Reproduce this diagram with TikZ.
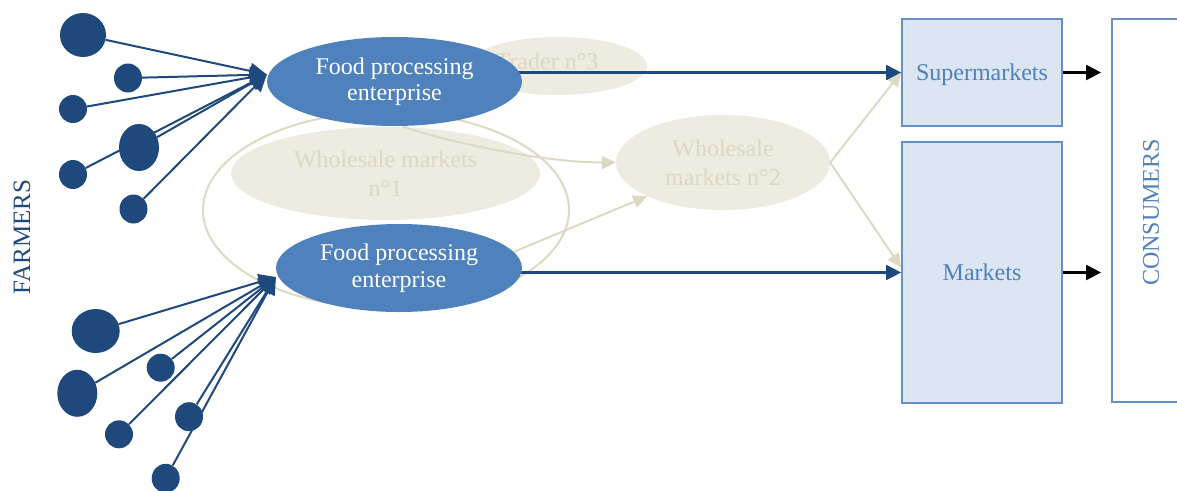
\documentclass[tikz,border=0pt]{standalone}
\usepackage{fontspec}
\setmainfont{Liberation Serif}
\usetikzlibrary{arrows.meta,calc,shapes.geometric}
\definecolor{dkblue}{HTML}{1F497D}
\definecolor{midblue}{HTML}{4F81BD}
\definecolor{boxline}{HTML}{6690C8}
\definecolor{boxfill}{HTML}{DCE6F2}
\definecolor{tanfill}{HTML}{EEECE1}
\definecolor{tanline}{HTML}{DDD9C3}
\definecolor{tantext}{HTML}{DCD8C3}
\pgfdeclarelayer{bottom}
\pgfdeclarelayer{mid}
\pgfsetlayers{bottom,mid,main}
\begin{document}
\begin{tikzpicture}[x=1pt,y=-1pt,
  font=\fontsize{24}{26.5}\selectfont,
  tanell/.style={ellipse, fill=tanfill, draw=none, text=tantext, inner sep=0pt, align=center, font=\fontsize{24}{29}\selectfont},
  fpe/.style={ellipse, fill=midblue, draw=none, text=white, inner sep=0pt, align=center},
  farmer/.style={ellipse, fill=dkblue, draw=none, inner sep=0pt},
  mybox/.style={rectangle, draw=boxline, line width=1.8pt, fill=boxfill, text=midblue, inner sep=0pt, text depth=0pt},
  feed/.style={dkblue, line width=2pt, -{Triangle[length=17pt,width=16pt]}},
  flow/.style={dkblue, line width=2.2pt, -{Triangle[length=15pt,width=15pt]}},
  tanflow/.style={tanline, line width=2pt, -{Triangle[length=14pt,width=13pt]}},
  outflow/.style={black, line width=2.2pt, -{Triangle[length=15pt,width=15pt]}}]
\useasboundingbox (0,0) rectangle (1177,490);
\clip (0,0) rectangle (1177,490);

% background ellipses
\begin{pgfonlayer}{bottom}
\node[tanell, minimum width=178pt, minimum height=58pt,
  label={[text=tantext, xshift=-11pt, yshift=5pt]center:Trader n°3}] (trader) at (558,66) {};
\node[tanell, minimum width=309pt, minimum height=93pt] (wm1) at (385.5,173.5) {Wholesale markets\\n°1};
\node[ellipse, draw=tanline, line width=2pt, fill=none, minimum width=366pt, minimum height=196pt, inner sep=0pt] (ring) at (386,210) {};
\node[tanell, minimum width=214pt, minimum height=95pt] (wm2) at (723,162.5) {Wholesale\\markets n°2};
\end{pgfonlayer}

% processing enterprises
\node[fpe, minimum width=255pt, minimum height=89pt] (fpe1) at (394.5,81.5) {Food processing\\enterprise};
\node[fpe, minimum width=246pt, minimum height=88pt] (fpe2) at (399,268) {Food processing\\enterprise};

% retail boxes
\node[mybox, minimum width=160pt, minimum height=107pt] (sm) at (982,72.5) {Supermarkets};
\node[mybox, minimum width=160pt, minimum height=261pt] (mk) at (982,272.5) {Markets};
\node[mybox, fill=white, minimum width=78pt, minimum height=383pt,
  label={[rotate=90, text=midblue, xshift=-2pt]center:CONSUMERS}] (cons) at (1151,210.5) {};

% farmers
\node[rotate=90, text=dkblue, font=\fontsize{25}{30}\selectfont] (farmers) at (22,237) {FARMERS};
\node[farmer, minimum width=46pt, minimum height=44pt] (f1) at (83,35) {};
\node[farmer, minimum width=28pt, minimum height=29pt] (f2) at (128,78) {};
\node[farmer, minimum width=28pt, minimum height=28pt] (f3) at (73,109) {};
\node[farmer, minimum width=40pt, minimum height=47pt] (f4) at (139,147.5) {};
\node[farmer, minimum width=28pt, minimum height=29pt] (f5) at (73,174.5) {};
\node[farmer, minimum width=28pt, minimum height=29pt] (f6) at (133.5,209) {};
\node[farmer, minimum width=48pt, minimum height=44pt] (g1) at (95.7,331) {};
\node[farmer, minimum width=28pt, minimum height=28pt] (g2) at (160.7,367.7) {};
\node[farmer, minimum width=40pt, minimum height=47pt] (g3) at (77.3,393.3) {};
\node[farmer, minimum width=28pt, minimum height=28pt] (g4) at (119,434.3) {};
\node[farmer, minimum width=28pt, minimum height=29pt] (g5) at (189,416.7) {};
\node[farmer, minimum width=28pt, minimum height=29pt] (g6) at (165.7,478.3) {};

% connectors
\begin{pgfonlayer}{mid}
\foreach \f in {f1,f2,f3,f4,f5,f6}
  \draw[feed] (\f) -- ($(fpe1.west)+(0,-7)$);
\foreach \g in {g1,g2,g3,g4,g5,g6}
  \draw[feed] (\g) -- ($(fpe2.west)+(0,9)$);
\draw[tanflow] (fpe1.-80) .. controls +(37,14) and +(-75,0) .. (wm2.west);
\draw[tanflow] (fpe2.8) -- (wm2.-156);
\draw[tanflow] (wm2.east) -- (sm.west);
\draw[tanflow] (wm2.east) -- ($(mk.west)+(0,-5)$);
\draw[flow] (fpe1.center |- sm.west) -- (sm.west);
\draw[flow] (fpe2.center |- mk.west) -- (mk.west);
\draw[outflow] (sm.east) -- ($(sm.east -| cons.west)+(-10,0)$);
\draw[outflow] (mk.east) -- ($(mk.east -| cons.west)+(-10,0)$);
\end{pgfonlayer}
\end{tikzpicture}
\end{document}
